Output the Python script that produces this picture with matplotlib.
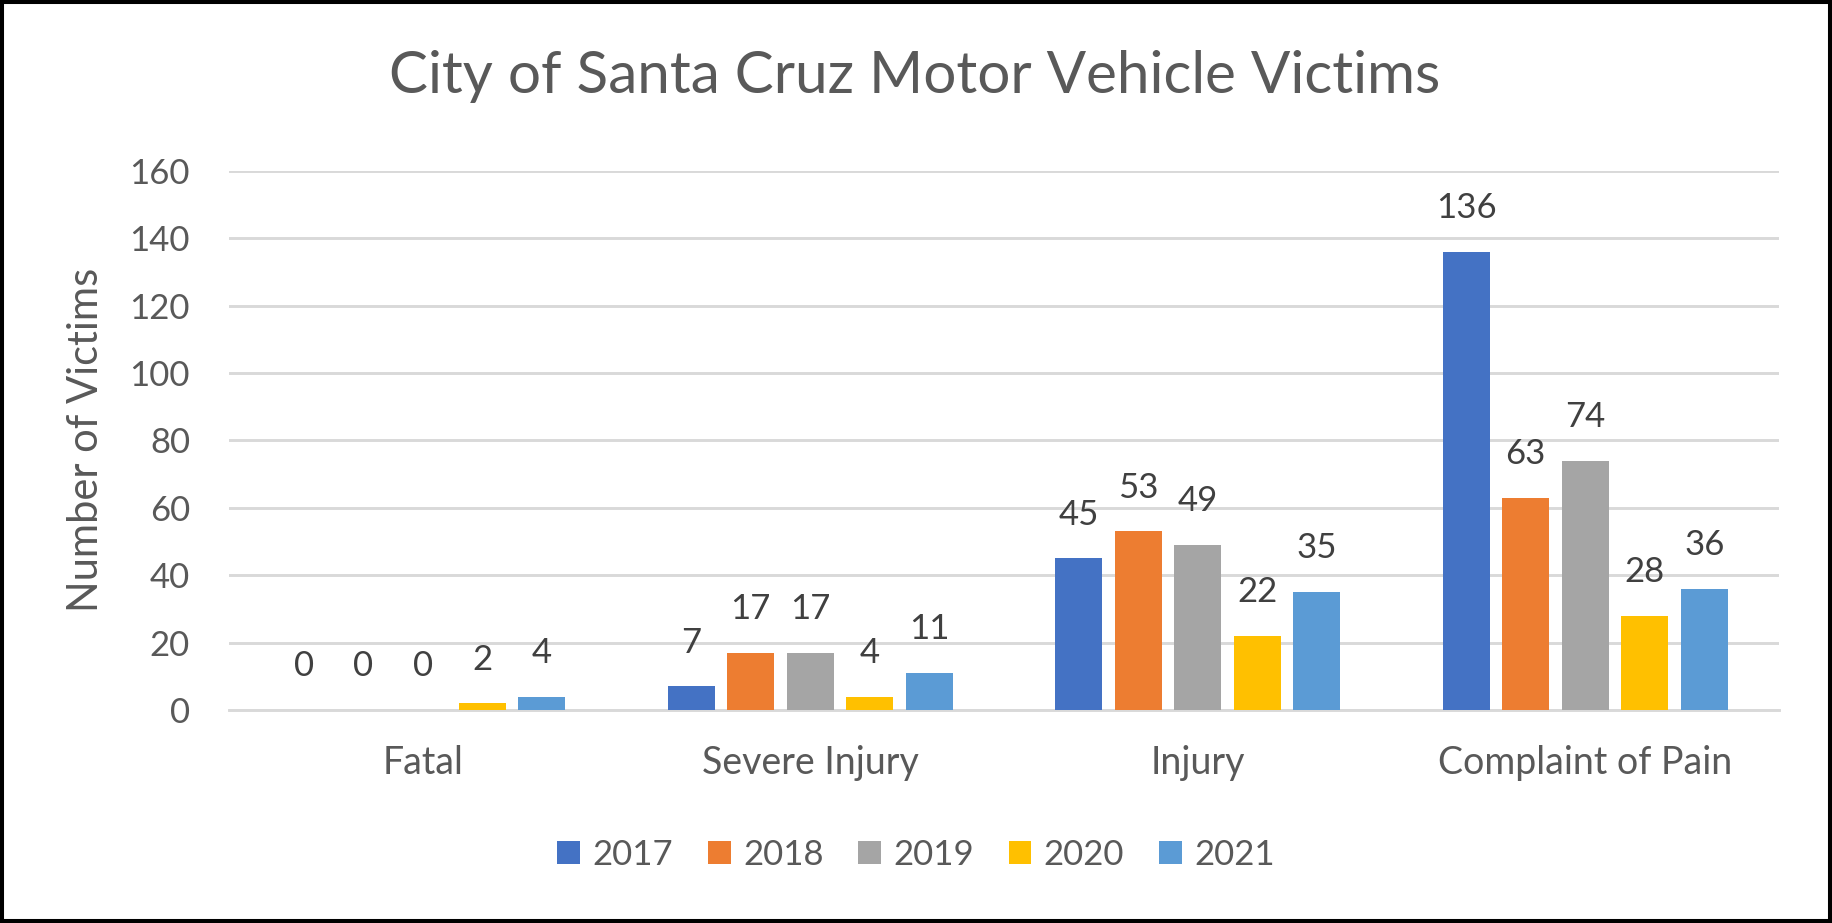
import matplotlib
matplotlib.use("Agg")
import matplotlib.pyplot as plt
from matplotlib.patches import Rectangle
import numpy as np

categories = ["Fatal", "Severe Injury", "Injury", "Complaint of Pain"]
years = ["2017", "2018", "2019", "2020", "2021"]
v2017 = [0, 7, 45, 136]
v2018 = [0, 17, 53, 63]
v2019 = [0, 17, 49, 74]
v2020 = [2, 4, 22, 28]
v2021 = [4, 11, 35, 36]
series = [v2017, v2018, v2019, v2020, v2021]
colors = ["#4472C4", "#ED7D31", "#A5A5A5", "#FFC000", "#5B9BD5"]
yticks = [0, 20, 40, 60, 80, 100, 120, 140, 160]

text_color = "#595959"
label_color = "#404040"
grid_color = "#D9D9D9"
plt.rcParams["font.family"] = ["Lato", "DejaVu Sans"]

W, H = 1832, 923
fig = plt.figure(figsize=(W / 100, H / 100), dpi=100)
ax = fig.add_axes([229 / W, 1 - 710 / H, (1779 - 229) / W, (710 - 170.7) / H])

x = np.arange(len(categories))
step = 0.1536
width = 0.121
for i, (vals, col, yr) in enumerate(zip(series, colors, years)):
    pos = x + (i - 2) * step
    ax.bar(pos, vals, width=width, color=col, label=yr, zorder=3)
    # value labels sit a fixed distance above each bar
    for px, v in zip(pos, vals):
        ax.annotate(str(v), (px, v), xytext=(0, 31.5), textcoords="offset points",
                    ha="center", va="center", fontsize=25, color=label_color)

ax.set_xlim(-0.5, len(categories) - 0.5)
ax.set_ylim(0, 160)
ax.set_yticks(yticks)
ax.set_xticks(x)
ax.set_xticklabels(categories)
ax.yaxis.grid(True, color=grid_color, linewidth=2.1, zorder=0)
ax.set_axisbelow(True)
for s in ["top", "right", "left"]:
    ax.spines[s].set_visible(False)
ax.spines["bottom"].set_color(grid_color)
ax.spines["bottom"].set_linewidth(2.1)
ax.tick_params(axis="both", length=0, labelcolor=text_color)
ax.tick_params(axis="y", pad=28, labelsize=25)
ax.tick_params(axis="x", pad=25, labelsize=27)

fig.text(915 / W, 1 - 76.5 / H, "City of Santa Cruz Motor Vehicle Victims",
         ha="center", va="center", fontsize=42, color=text_color)
fig.text(86 / W, 1 - 440 / H, "Number of Victims", rotation=90,
         ha="center", va="center", fontsize=30, color=text_color)

fig.legend(loc="center", bbox_to_anchor=(0.5, 1 - 855 / H), ncol=5, frameon=False,
           fontsize=25, labelcolor=text_color, handlelength=0.66, handleheight=0.63,
           handletextpad=0.35, columnspacing=1.0)

fig.patches.append(Rectangle((0, 0), 1, 1, transform=fig.transFigure, fill=False,
                             edgecolor="black", linewidth=5.8))

fig.savefig("out.png", dpi=100)
